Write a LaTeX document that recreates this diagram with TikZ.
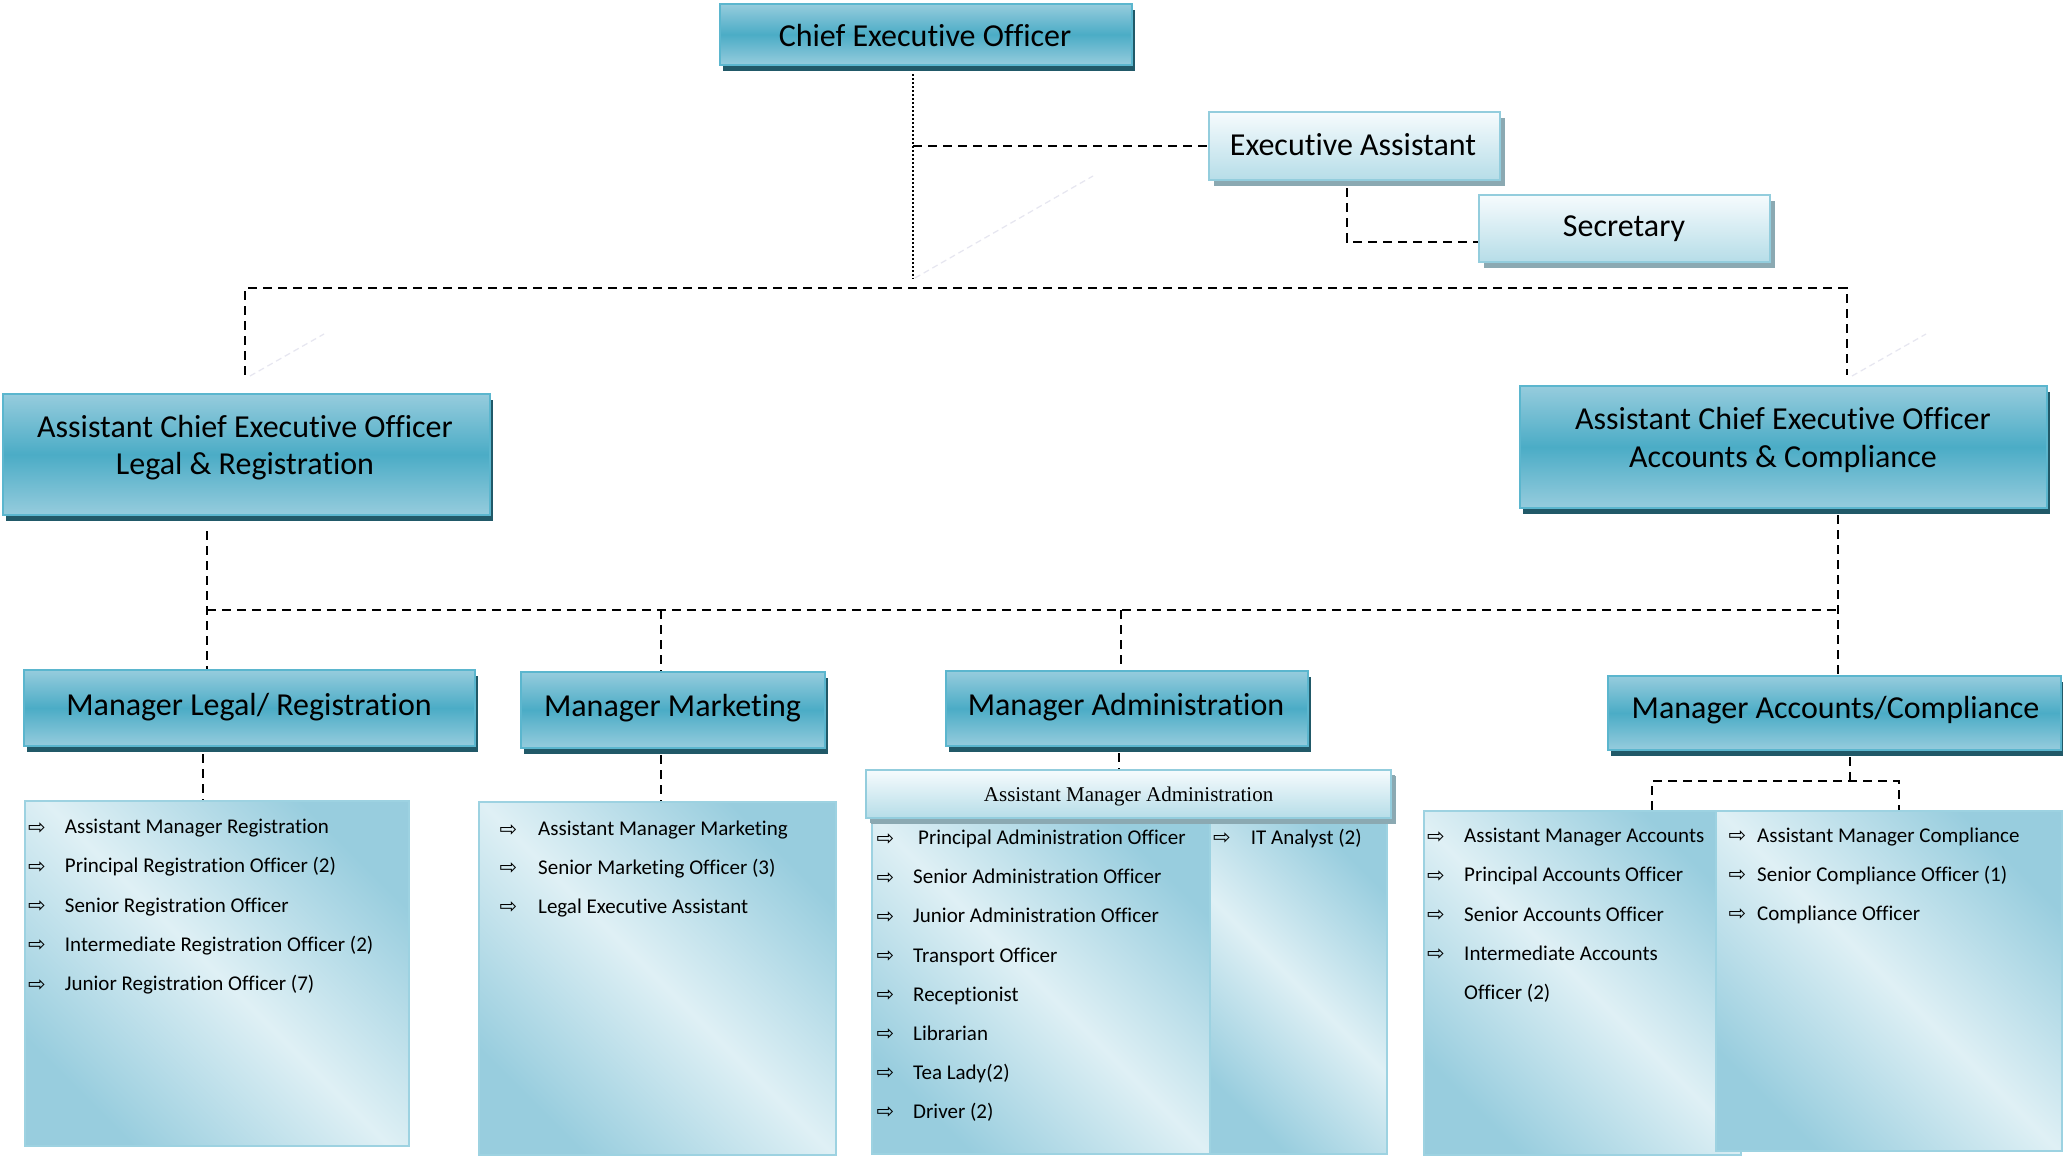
\documentclass[tikz,border=0pt]{standalone}
\usepackage{fontspec}
\setmainfont{Carlito}[Ligatures=NoCommon]
\newfontfamily\timesf{Liberation Serif}
\newfontfamily\symf{DejaVu Sans}
\usetikzlibrary{calc,backgrounds,shadows}
\definecolor{dkTop}{HTML}{96CCDD}
\definecolor{dkMid}{HTML}{4BACC6}
\definecolor{dkBorder}{HTML}{5BB6CE}
\definecolor{dkShadow}{HTML}{215968}
\definecolor{ltTop}{HTML}{F6FBFD}
\definecolor{ltBot}{HTML}{B6DDE8}
\definecolor{ltBorder}{HTML}{93CDDD}
\definecolor{ltShadow}{HTML}{8BA9B2}
\definecolor{lsBlue}{HTML}{98CDDE}
\definecolor{lsLight}{HTML}{DFF0F5}
\definecolor{lsBorder}{HTML}{9DD2E1}
\definecolor{faint}{HTML}{E6E6F0}
\tikzset{
 darkbox/.style={rectangle, draw=dkBorder, line width=2.5pt, top color=dkTop, bottom color=dkTop, middle color=dkMid, inner sep=0pt,
   drop shadow={shadow xshift=3pt, shadow yshift=-6pt, fill=dkShadow, opacity=1}},
 lightbox/.style={rectangle, draw=ltBorder, line width=2.5pt, top color=ltTop, bottom color=ltBot, inner sep=0pt,
   drop shadow={shadow xshift=5pt, shadow yshift=-6pt, fill=ltShadow, opacity=1}},
 listbox/.style={rectangle, draw=lsBorder, line width=2.5pt, top color=lsBlue, bottom color=lsBlue, middle color=lsLight, shading angle=-45, inner sep=0pt},
 head/.style={font=\fontsize{32}{38}\selectfont, anchor=base, inner sep=0pt},
 item/.style={font=\fontsize{21}{25}\selectfont, anchor=base west, inner sep=0pt},
 bul/.style={font=\symf\fontsize{21}{24}\selectfont, anchor=base west, inner sep=0pt},
 conn/.style={line width=2pt, dash pattern=on 9pt off 6pt},
 dotconn/.style={line width=2pt, dash pattern=on 2pt off 2pt},
 faintline/.style={draw=faint, line width=1.2pt, dash pattern=on 6pt off 4pt},
}
\begin{document}
\begin{tikzpicture}[x=1pt,y=-1pt]
\useasboundingbox (0,0) rectangle (2063,1157);
\begin{scope}[on background layer]
\fill[white] (0,0) rectangle (2063,1157);
\end{scope}

% boxes
\node[darkbox, minimum width=412pt, minimum height=61pt] (ceo) at (926,34.5) {};
\node[lightbox, minimum width=291pt, minimum height=68pt] (ea) at (1354.5,146) {};
\node[lightbox, minimum width=291pt, minimum height=67pt] (sec) at (1624.5,228.5) {};
\node[darkbox, minimum width=487pt, minimum height=121pt] (aceoL) at (246.5,454.5) {};
\node[darkbox, minimum width=527pt, minimum height=122pt] (aceoR) at (1783.5,447) {};
\node[darkbox, minimum width=451pt, minimum height=76pt] (mL) at (249.5,708) {};
\node[darkbox, minimum width=304pt, minimum height=76pt] (mM) at (673,710) {};
\node[darkbox, minimum width=362pt, minimum height=75pt] (mA) at (1127,708.5) {};
\node[darkbox, minimum width=453pt, minimum height=74pt] (mC) at (1834.5,713) {};
\node[listbox, minimum width=384pt, minimum height=345pt] (lstL) at (217,973.5) {};
\node[listbox, minimum width=357pt, minimum height=353pt] (lstM) at (657.5,978.5) {};
\node[listbox, minimum width=338pt, minimum height=336pt] (lstA1) at (1041,986) {};
\node[listbox, minimum width=177pt, minimum height=336pt] (lstA2) at (1298.5,986) {};
\node[lightbox, minimum width=525pt, minimum height=48pt, drop shadow={shadow xshift=4pt, shadow yshift=-5pt, fill=ltShadow, opacity=1}] (ama) at (1128.5,794) {};
\node[listbox, minimum width=317pt, minimum height=344pt] (lstC1) at (1582.5,983) {};
\node[listbox, minimum width=346pt, minimum height=340pt] (lstC2) at (1889,981) {};

% faint artefact strokes
\draw[faintline] (915,278) -- (1093,176);
\draw[faintline] (250,376) -- (324,334);
\draw[faintline] (1852,376) -- (1926,334);

% connectors
\coordinate (cv) at (913,279);
\draw[dotconn] ($(ceo.south -| cv)+(0,8)$) -- (cv);
\draw[conn] (cv |- ea.west) -- (ea.west);
\coordinate (g) at (1347,242);
\draw[conn] ($(ea.south -| g)+(0,7)$) -- (g) -- (g -| sec.west);
\coordinate (b1) at (245,288);
\coordinate (b2) at (1847,288);
\draw[conn] ($(aceoL.north -| b1)+(0,-18)$) -- (b1) -- (b2) -- ($(aceoR.north -| b2)+(0,-10)$);
\coordinate (c1) at (207,610);
\coordinate (c2) at (1838,610);
\draw[conn] ($(aceoL.south -| c1)+(0,15)$) -- (mL.north -| c1);
\draw[conn] (c1) -- (c2);
\draw[conn] ($(aceoR.south -| c2)+(0,6)$) -- (mC.north -| c2);
\coordinate (dM) at (661,610);
\coordinate (dA) at (1121,610);
\draw[conn] (dM) -- (mM.north -| dM);
\draw[conn] (dA) -- (mA.north -| dA);
\coordinate (eL) at (203,780);
\draw[conn] ($(mL.south -| eL)+(0,7)$) -- (lstL.north -| eL);
\draw[conn] ($(mM.south -| dM)+(0,6)$) -- (lstM.north -| dM);
\coordinate (eA) at (1119,760);
\draw[conn] ($(mA.south -| eA)+(0,6)$) -- (ama.north -| eA);
\coordinate (eC) at (1850,781);
\coordinate (fC1) at (1652,781);
\coordinate (fC2) at (1899,781);
\draw[conn] ($(mC.south -| eC)+(0,6)$) -- (eC);
\draw[conn] (fC1 |- lstC1.north) -- (fC1) -- (fC2) -- (fC2 |- lstC2.north);

% header texts
\node[head] (tceo) at (925,46) {Chief Executive Officer};
\node[head] (tea) at (1353,155) {Executive Assistant};
\node[head] (tsec) at (1624,236) {Secretary};
\node[head] (taL1) at (245,437.5) {Assistant Chief Executive Officer};
\node[head] (taL2) at (245,474.5) {Legal \& Registration};
\node[head] (taR1) at (1783,429.5) {Assistant Chief Executive Officer};
\node[head] (taR2) at (1783,467) {Accounts \& Compliance};
\node[head] (tmL) at (249,715) {Manager Legal/ Registration};
\node[head] (tmM) at (672.5,716) {Manager Marketing};
\node[head] (tmA) at (1126,715) {Manager Administration};
\node[head] (tmC) at (1835.5,718) {Manager Accounts/Compliance};
\node[font=\timesf\fontsize{21}{25}\selectfont, anchor=base, inner sep=0pt] (tama) at (1128.6,801.5) {Assistant Manager Administration};

% list items
\foreach \t [count=\i from 0] in {Assistant Manager Registration, Principal Registration Officer (2), Senior Registration Officer, Intermediate Registration Officer (2), Junior Registration Officer (7)} {
  \node[bul] (bL\i) at (28, 834+39.25*\i) {⇨};
  \node[item] (iL\i) at (64.7, 833.5+39.25*\i) {\t};
}
\foreach \t [count=\i from 0] in {Assistant Manager Marketing, Senior Marketing Officer (3), Legal Executive Assistant} {
  \node[bul] (bM\i) at (499.5, 836+38.8*\i) {⇨};
  \node[item] (iM\i) at (538, 835.7+38.8*\i) {\t};
}
\node[bul] (bA0) at (876.5, 845) {⇨};
\node[item] (iA0) at (918, 844.6) {Principal Administration Officer};
\foreach \t [count=\i from 1] in {Senior Administration Officer, Junior Administration Officer, Transport Officer, Receptionist, Librarian, Tea Lady(2), Driver (2)} {
  \node[bul] (bA\i) at (876.5, 845+39.14*\i) {⇨};
  \node[item] (iA\i) at (913, 844.6+39.14*\i) {\t};
}
\node[bul] (bIT) at (1213, 844) {⇨};
\node[item] (iIT) at (1250.7, 844) {IT Analyst (2)};
\foreach \t [count=\i from 0] in {Assistant Manager Accounts, Principal Accounts Officer, Senior Accounts Officer, Intermediate Accounts} {
  \node[bul] (bC\i) at (1427, 843+39.1*\i) {⇨};
  \node[item] (iC\i) at (1464, 842.8+39.1*\i) {\t};
}
\node[item] (iC4) at (1464, 999.3) {Officer (2)};
\foreach \t [count=\i from 0] in {Assistant Manager Compliance, Senior Compliance Officer (1), Compliance Officer} {
  \node[bul] (bK\i) at (1728.5, 842.5+38.95*\i) {⇨};
  \node[item] (iK\i) at (1757, 842.4+38.95*\i) {\t};
}
\end{tikzpicture}
\end{document}
